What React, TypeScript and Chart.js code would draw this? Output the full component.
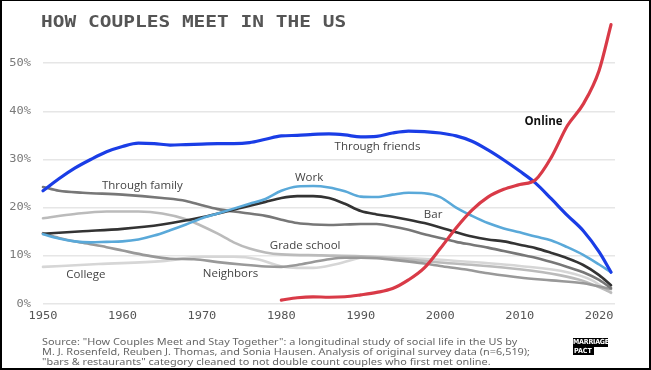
import React, { useEffect, useRef } from "react";
import { Chart, registerables } from "chart.js";

Chart.register(...registerables);

const xTickYears = [1950, 1960, 1970, 1980, 1990, 2000, 2010, 2020];
const yTickValues = [0, 10, 20, 30, 40, 50];

const friendsYears = [1950, 1952, 1954, 1956, 1958, 1960, 1962, 1964, 1966, 1968, 1970, 1972, 1974, 1976, 1978, 1980, 1982, 1984, 1986, 1988, 1990, 1992, 1994, 1996, 1998, 2000, 2002, 2004, 2006, 2008, 2010, 2012, 2014, 2016, 2018, 2020, 2021.5];
const friendsValues = [23.5, 26.0, 28.2, 30.0, 31.6, 32.7, 33.4, 33.3, 33.0, 33.1, 33.2, 33.3, 33.3, 33.5, 34.2, 34.9, 35.0, 35.2, 35.3, 35.1, 34.7, 34.8, 35.5, 35.9, 35.8, 35.5, 34.9, 33.8, 32.0, 29.9, 27.6, 25.1, 21.8, 18.4, 15.2, 10.8, 6.6];

const onlineYears = [1980, 1982, 1984, 1986, 1988, 1990, 1992, 1994, 1996, 1998, 2000, 2002, 2004, 2006, 2008, 2010, 2012, 2014, 2016, 2018, 2020, 2021.5];
const onlineValues = [0.8, 1.3, 1.5, 1.4, 1.5, 1.9, 2.4, 3.2, 5.0, 7.5, 11.5, 15.8, 19.5, 22.2, 23.8, 24.8, 25.8, 30.5, 37.0, 41.5, 48.5, 58.0];

const workYears = [1950, 1952, 1954, 1956, 1958, 1960, 1962, 1964, 1966, 1968, 1970, 1972, 1974, 1976, 1978, 1980, 1982, 1984, 1986, 1988, 1990, 1992, 1994, 1996, 1998, 2000, 2002, 2004, 2006, 2008, 2010, 2012, 2014, 2016, 2018, 2020, 2021.5];
const workValues = [14.5, 13.6, 13.0, 12.8, 12.9, 13.0, 13.4, 14.2, 15.3, 16.5, 17.8, 18.8, 19.8, 20.8, 21.8, 23.5, 24.4, 24.5, 24.2, 23.4, 22.3, 22.2, 22.7, 23.1, 23.0, 22.2, 20.0, 18.3, 16.8, 15.7, 14.9, 14.0, 13.2, 11.8, 10.2, 8.2, 6.6];

const barYears = [1950, 1955, 1960, 1965, 1970, 1975, 1978, 1980, 1982, 1984, 1986, 1988, 1990, 1992, 1994, 1996, 1998, 2000, 2002, 2004, 2006, 2008, 2010, 2012, 2014, 2016, 2018, 2020, 2021.5];
const barValues = [14.6, 15.1, 15.6, 16.5, 18.0, 20.0, 21.2, 22.0, 22.4, 22.4, 22.0, 20.8, 19.3, 18.6, 18.1, 17.5, 16.8, 15.9, 14.9, 14.0, 13.4, 13.0, 12.3, 11.6, 10.6, 9.5, 8.1, 6.0, 3.9];

const familyYears = [1950, 1952, 1955, 1960, 1965, 1968, 1970, 1972, 1975, 1978, 1980, 1982, 1984, 1986, 1988, 1990, 1992, 1994, 1996, 1998, 2000, 2002, 2004, 2006, 2008, 2010, 2012, 2014, 2016, 2018, 2020, 2021.5];
const familyValues = [24.3, 23.5, 23.1, 22.7, 22.0, 21.4, 20.5, 19.7, 19.0, 18.3, 17.5, 16.8, 16.5, 16.4, 16.5, 16.6, 16.6, 16.1, 15.4, 14.5, 13.7, 12.9, 12.3, 11.7, 11.0, 10.3, 9.6, 8.7, 7.7, 6.6, 5.0, 3.3];

const gradeYears = [1950, 1954, 1958, 1962, 1965, 1968, 1970, 1972, 1974, 1976, 1978, 1980, 1985, 1990, 1995, 2000, 2005, 2010, 2015, 2018, 2021.5];
const gradeValues = [17.8, 18.7, 19.2, 19.2, 18.8, 17.6, 16.2, 14.6, 12.8, 11.5, 10.7, 10.3, 10.1, 9.9, 9.4, 8.6, 8.0, 7.2, 6.0, 4.8, 2.4];

const neighborsYears = [1950, 1952, 1955, 1958, 1960, 1963, 1966, 1969, 1972, 1975, 1978, 1980, 1982, 1984, 1986, 1988, 1990, 1992, 1995, 1998, 2000, 2003, 2006, 2010, 2014, 2018, 2021.5];
const neighborsValues = [14.7, 13.7, 12.7, 11.8, 11.1, 10.1, 9.4, 9.3, 8.7, 8.2, 7.8, 7.7, 8.1, 8.7, 9.3, 9.6, 9.6, 9.5, 9.0, 8.4, 7.9, 7.2, 6.4, 5.5, 4.9, 4.3, 3.1];

const collegeYears = [1950, 1957, 1965, 1970, 1974, 1977, 1980, 1982, 1984, 1987, 1991, 1995, 2000, 2005, 2010, 2016, 2019, 2021.5];
const collegeValues = [7.7, 8.3, 8.9, 9.8, 9.8, 9.3, 7.8, 7.5, 7.5, 8.3, 9.8, 9.6, 9.2, 8.6, 7.9, 6.6, 5.0, 2.3];

const labelTexts = ["Through friends", "Online", "Work", "Bar", "Through family", "Grade school", "Neighbors", "College"];
const labelYears = [1992.1, 2013.0, 1983.5, 1999.1, 1962.5, 1983.0, 1973.6, 1955.4];
const labelValues = [32.6, 37.8, 26.3, 18.5, 24.5, 12.0, 6.2, 6.0];

const sourceLines = [
  'Source: "How Couples Meet and Stay Together": a longitudinal study of social life in the US by',
  "M. J. Rosenfeld, Reuben J. Thomas, and Sonia Hausen. Analysis of original survey data (n=6,519);",
  '"bars & restaurants" category cleaned to not double count couples who first met online.',
];

const SQUISH = 0.82;

const toPoints = (xs: number[], ys: number[]) => xs.map((x, i) => ({ x, y: ys[i] }));

const drawSquished = (ctx: CanvasRenderingContext2D, text: string, x: number, y: number) => {
  ctx.save();
  ctx.translate(x, y);
  ctx.scale(1, SQUISH);
  ctx.fillText(text, 0, 0);
  ctx.restore();
};

const tickText = {
  id: "tickText",
  afterDraw(chart: any) {
    const { ctx, scales, chartArea } = chart;
    ctx.save();
    ctx.font = "12px 'DejaVu Sans Mono'";
    ctx.textBaseline = "middle";
    ctx.textAlign = "center";
    ctx.fillStyle = "#555";
    xTickYears.forEach((v) => drawSquished(ctx, String(v), scales.x.getPixelForValue(v), chartArea.bottom + 12));
    ctx.textAlign = "right";
    ctx.fillStyle = "#7a7a7a";
    yTickValues.forEach((v) => drawSquished(ctx, v + "%", chartArea.left - 12, scales.y.getPixelForValue(v)));
    ctx.restore();
  },
};

const lineLabels = {
  id: "lineLabels",
  afterDatasetsDraw(chart: any) {
    const { ctx, scales } = chart;
    ctx.save();
    ctx.textAlign = "center";
    ctx.textBaseline = "middle";
    labelTexts.forEach((t, i) => {
      const bold = t === "Online";
      ctx.font = (bold ? "bold " : "") + "11.5px 'Open Sans'";
      ctx.fillStyle = bold ? "#111" : "#444";
      ctx.fillText(t, scales.x.getPixelForValue(labelYears[i]), scales.y.getPixelForValue(labelValues[i]));
    });
    ctx.restore();
  },
};

export default function App() {
  const ref = useRef<HTMLCanvasElement>(null);
  useEffect(() => {
    if (!ref.current) return;
    const mk = (data: any[], color: string, width: number) => ({
      data,
      borderColor: color,
      backgroundColor: color,
      borderWidth: width,
      pointRadius: 0,
      fill: false,
      cubicInterpolationMode: "monotone" as const,
      borderCapStyle: "round" as const,
      borderJoinStyle: "round" as const,
      clip: false as any,
    });
    const chart = new Chart(ref.current, {
      type: "line",
      data: {
        datasets: [
          mk(toPoints(onlineYears, onlineValues), "#d93a47", 3.2),
          mk(toPoints(friendsYears, friendsValues), "#1a3de6", 3.2),
          mk(toPoints(workYears, workValues), "#5aa9d9", 2.6),
          mk(toPoints(barYears, barValues), "#333333", 2.6),
          mk(toPoints(familyYears, familyValues), "#777777", 2.6),
          mk(toPoints(neighborsYears, neighborsValues), "#999999", 2.6),
          mk(toPoints(gradeYears, gradeValues), "#bbbbbb", 2.6),
          mk(toPoints(collegeYears, collegeValues), "#d6d6d6", 2.6),
        ],
      },
      options: {
        animation: false,
        responsive: false,
        events: [],
        layout: { padding: { left: 0, right: 36, top: 15, bottom: 46 } },
        plugins: { legend: { display: false }, tooltip: { enabled: false } },
        scales: {
          x: {
            type: "linear",
            min: 1950,
            max: 2022,
            afterBuildTicks: (s: any) => {
              s.ticks = xTickYears.map((v) => ({ value: v }));
            },
            afterFit: (s: any) => {
              s.height = 20;
            },
            grid: { display: false, drawTicks: false },
            border: { display: false },
            ticks: { display: false },
          },
          y: {
            type: "linear",
            min: 0,
            max: 60,
            afterBuildTicks: (s: any) => {
              s.ticks = yTickValues.map((v) => ({ value: v }));
            },
            afterFit: (s: any) => {
              s.width = 43;
            },
            grid: { color: "#e6e6e6", lineWidth: 1.5, drawTicks: false },
            border: { display: false },
            ticks: { display: false },
          },
        },
      },
      plugins: [lineLabels, tickText],
    });
    return () => chart.destroy();
  }, []);

  return (
    <div style={{ position: "fixed", left: 0, top: 0, width: 651, height: 370, background: "#fff", overflow: "hidden" }}>
      <canvas ref={ref} width={651} height={370} style={{ position: "absolute", left: 0, top: 0, width: 651, height: 370 }} />
      <div
        style={{
          position: "absolute",
          left: 41,
          top: 13.5,
          font: "bold 19.5px 'DejaVu Sans Mono'",
          lineHeight: "20px",
          color: "#555",
          whiteSpace: "nowrap",
          transform: `scaleY(${SQUISH})`,
          transformOrigin: "0 0",
        }}
      >
        HOW COUPLES MEET IN THE US
      </div>
      <div
        style={{
          position: "absolute",
          left: 42,
          top: 337,
          font: "10.9px 'Noto Sans'",
          lineHeight: "12px",
          color: "#666",
          whiteSpace: "nowrap",
          transform: `scaleY(${SQUISH})`,
          transformOrigin: "0 0",
        }}
      >
        {sourceLines.map((l, i) => (
          <div key={i}>{l}</div>
        ))}
      </div>
      <div style={{ position: "absolute", left: 573, top: 338, font: "bold 7px 'DejaVu Sans Condensed'", color: "#fff", lineHeight: "8.5px" }}>
        <div style={{ background: "#000", width: 35, textAlign: "center", letterSpacing: "-0.2px" }}>MARRIAGE</div>
        <div style={{ background: "#000", width: 20, paddingLeft: 1 }}>PACT</div>
      </div>
      <div
        style={{
          position: "absolute",
          left: 0,
          top: 0,
          width: 651,
          height: 370,
          boxSizing: "border-box",
          borderStyle: "solid",
          borderColor: "#000",
          borderWidth: "1px 2px 2px 2px",
          pointerEvents: "none",
        }}
      />
    </div>
  );
}
